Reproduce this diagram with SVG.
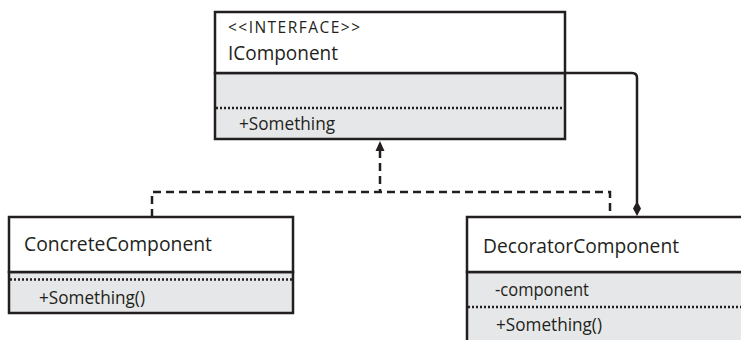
<svg xmlns="http://www.w3.org/2000/svg" width="741" height="340" viewBox="0 0 741 340">
<style>
.box{fill:#ffffff;stroke:#231f20;stroke-width:2.5}
.gray{fill:#e6e7e8;stroke:#231f20;stroke-width:2.5}
.dot{stroke:#231f20;stroke-width:2.5;stroke-dasharray:2 2;fill:none}
.t{font-family:"Open Sans","Noto Sans",sans-serif;fill:#231f20}
.big{font-size:19.5px}
.mem{font-size:17.5px}
.small{font-size:15.5px}
.dash{stroke:#231f20;stroke-width:2.5;stroke-dasharray:8 5;fill:none}
.solid{stroke:#231f20;stroke-width:2.5;fill:none}
</style>
<g id="connectors">
<path class="dash" d="M380,150 V192 M152,217 V192 H610 V217"/>
<polygon points="380,141 384.5,151 375.5,151" fill="#231f20"/>
<path class="solid" d="M565,73 H632 Q637,73 637,78 V203"/>
<polygon points="637,201 641,208.5 637,216 633,208.5" fill="#231f20"/>
</g>
<g id="IComponent">
<rect class="gray" x="215" y="73" width="350" height="66"/>
<rect class="box" x="215" y="12" width="350" height="61"/>
<line class="dot" x1="216" y1="108" x2="564" y2="108"/>
<text class="t small" x="228" y="33" textLength="132" lengthAdjust="spacing">&lt;&lt;INTERFACE&gt;&gt;</text>
<text class="t big" x="228" y="60" textLength="110" lengthAdjust="spacingAndGlyphs">IComponent</text>
<text class="t mem" x="239" y="130" textLength="96" lengthAdjust="spacingAndGlyphs">+Something</text>
</g>
<g id="ConcreteComponent">
<rect class="gray" x="9" y="272" width="284" height="41"/>
<rect class="box" x="9" y="217" width="284" height="55"/>
<line class="dot" x1="10" y1="279.5" x2="292" y2="279.5"/>
<text class="t big" x="24" y="251" textLength="188" lengthAdjust="spacingAndGlyphs">ConcreteComponent</text>
<text class="t mem" x="39" y="304" textLength="106" lengthAdjust="spacingAndGlyphs">+Something()</text>
</g>
<g id="DecoratorComponent">
<rect class="gray" x="467" y="272" width="290" height="80"/>
<rect class="box" x="467" y="217" width="290" height="55"/>
<line class="dot" x1="468" y1="307" x2="745" y2="307"/>
<text class="t big" x="483" y="253" textLength="196" lengthAdjust="spacingAndGlyphs">DecoratorComponent</text>
<text class="t mem" x="495" y="296" textLength="94" lengthAdjust="spacingAndGlyphs">-component</text>
<text class="t mem" x="496" y="331" textLength="106" lengthAdjust="spacingAndGlyphs">+Something()</text>
</g>
</svg>
